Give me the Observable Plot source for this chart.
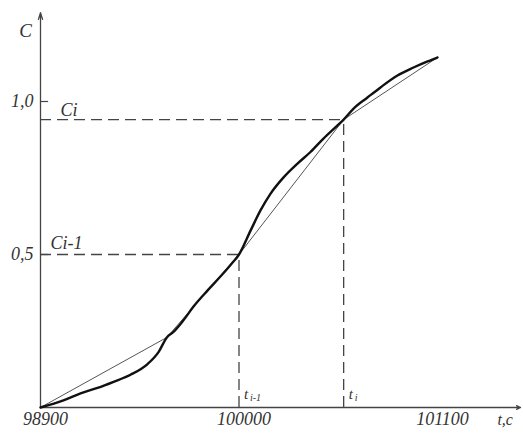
<!DOCTYPE html>
<html>
<head>
<meta charset="utf-8">
<script src="https://cdn.jsdelivr.net/npm/d3@7"></script>
<script src="https://cdn.jsdelivr.net/npm/@observablehq/plot@0.6"></script>
<style>
  html, body { margin: 0; padding: 0; background: #fff; }
  #chart svg { display: block; }
  #chart svg text { font-family: 'Liberation Serif', 'Times New Roman', serif; }
</style>
</head>
<body>
<div id="chart"></div>
<script>
// Measured curve (thick line)
const tThick = [98900, 99027, 99122, 99216, 99305, 99399, 99493, 99555, 99600,
  99637, 99692, 99748, 99825, 99897, 99953, 100000,
  100064, 100119, 100175, 100247, 100324, 100396, 100468, 100546, 100580,
  100635, 100712, 100784, 100878, 100967, 101045, 101100];
const cThick = [0, 0.023, 0.046, 0.064, 0.084, 0.107, 0.142, 0.182, 0.229,
  0.247, 0.285, 0.330, 0.382, 0.428, 0.466, 0.5,
  0.578, 0.644, 0.699, 0.752, 0.797, 0.835, 0.879, 0.922, 0.941,
  0.977, 1.013, 1.046, 1.085, 1.111, 1.131, 1.144];

// Piecewise-linear approximation (thin line) knots
const tKnots = [98900, 99600, 100000, 100580, 101100];
const cKnots = [0, 0.229, 0.5, 0.941, 1.144];

// Marked points (dashed guides)
const guideT = [100000, 100580];
const guideC = [0.5, 0.941];
const guideCLabels = ["Ci-1", "Ci"];
const guideTSub = ["i-1", "i"];

// Ticks
const xTicks = [98900, 100000, 101100];
const yTicks = [0.5, 1.0];
const yTickLabels = ["0,5", "1,0"];

// Axis extents
const tMin = 98900, tAxisEnd = 101560;
const cMin = 0, cAxisEnd = 1.29;

const thick = tThick.map((t, i) => ({t, c: cThick[i]}));
const knots = tKnots.map((t, i) => ({t, c: cKnots[i]}));
const guides = guideT.map((t, i) => ({t, c: guideC[i], lab: guideCLabels[i], sub: guideTSub[i]}));
const yt = yTicks.map((c, i) => ({c, lab: yTickLabels[i]}));

const font = "Liberation Serif";
const ink = "#333";

const chart = Plot.plot({
  width: 523,
  height: 434,
  marginLeft: 0, marginRight: 0, marginTop: 0, marginBottom: 0,
  style: {background: "#fff"},
  x: {domain: [98900, 101100], range: [40, 437], axis: null},
  y: {domain: [0, 1], range: [407, 101], axis: null},
  marks: [
    // axes
    Plot.arrow([0], {x1: tMin, y1: cMin, x2: tAxisEnd, y2: cMin, stroke: "#444", strokeWidth: 1.3, headLength: 5, headAngle: 50}),
    Plot.arrow([0], {x1: tMin, y1: cMin, x2: tMin, y2: cAxisEnd, stroke: "#444", strokeWidth: 1.3, headLength: 8, headAngle: 35}),
    // y tick marks
    Plot.ruleY(yt, {y: "c", x1: tMin, x2: tMin + 45, stroke: "#444", strokeWidth: 1.2}),
    // dashed guides
    Plot.ruleY(guides, {y: "c", x1: tMin, x2: "t", stroke: "#444", strokeWidth: 1.3, strokeDasharray: "11,6"}),
    Plot.ruleX(guides, {x: "t", y1: cMin, y2: "c", stroke: "#444", strokeWidth: 1.3, strokeDasharray: "11,6"}),
    // thin chord line
    Plot.line(knots, {x: "t", y: "c", stroke: "#555", strokeWidth: 1}),
    // thick measured curve
    Plot.line(thick, {x: "t", y: "c", stroke: "#111", strokeWidth: 2.4, curve: "monotone-x"}),
    // y tick labels
    Plot.text(yt, {x: tMin, y: "c", text: "lab", textAnchor: "end", dx: -7, fontSize: 18, fontFamily: font, fontStyle: "italic", fill: ink}),
    // y axis label
    Plot.text(["C"], {x: tMin, y: 1.232, text: d => d, dx: -15, fontSize: 19, fontFamily: font, fontStyle: "italic", fill: ink}),
    // guide labels Ci-1, Ci
    Plot.text(guides.slice(0, 1), {x: tMin, y: "c", text: "lab", textAnchor: "start", dx: 10, dy: -11, fontSize: 18, fontFamily: font, fontStyle: "italic", fill: ink}),
    Plot.text(guides.slice(1), {x: tMin, y: "c", text: "lab", textAnchor: "start", dx: 20, dy: -9, fontSize: 18, fontFamily: font, fontStyle: "italic", fill: ink}),
    // t labels near x axis
    Plot.text(guides, {x: "t", y: cMin, text: () => "t", textAnchor: "start", dx: 5, dy: -13, fontSize: 15, fontFamily: font, fontStyle: "italic", fill: ink}),
    Plot.text(guides, {x: "t", y: cMin, text: "sub", textAnchor: "start", dx: 11, dy: -10, fontSize: 10, fontFamily: font, fontStyle: "italic", fill: ink}),
    // x tick labels
    Plot.text(xTicks, {x: d => d, y: cMin, text: d => String(d), dx: 5, dy: 12, fontSize: 18, fontFamily: font, fontStyle: "italic", fill: ink, textAnchor: "middle"}),
    // x axis label
    Plot.text(["t,c"], {x: 101475, y: cMin, text: d => d, dy: 12, fontSize: 16, fontFamily: font, fontStyle: "italic", fill: ink})
  ]
});
document.getElementById("chart").append(chart);
</script>
</body>
</html>
